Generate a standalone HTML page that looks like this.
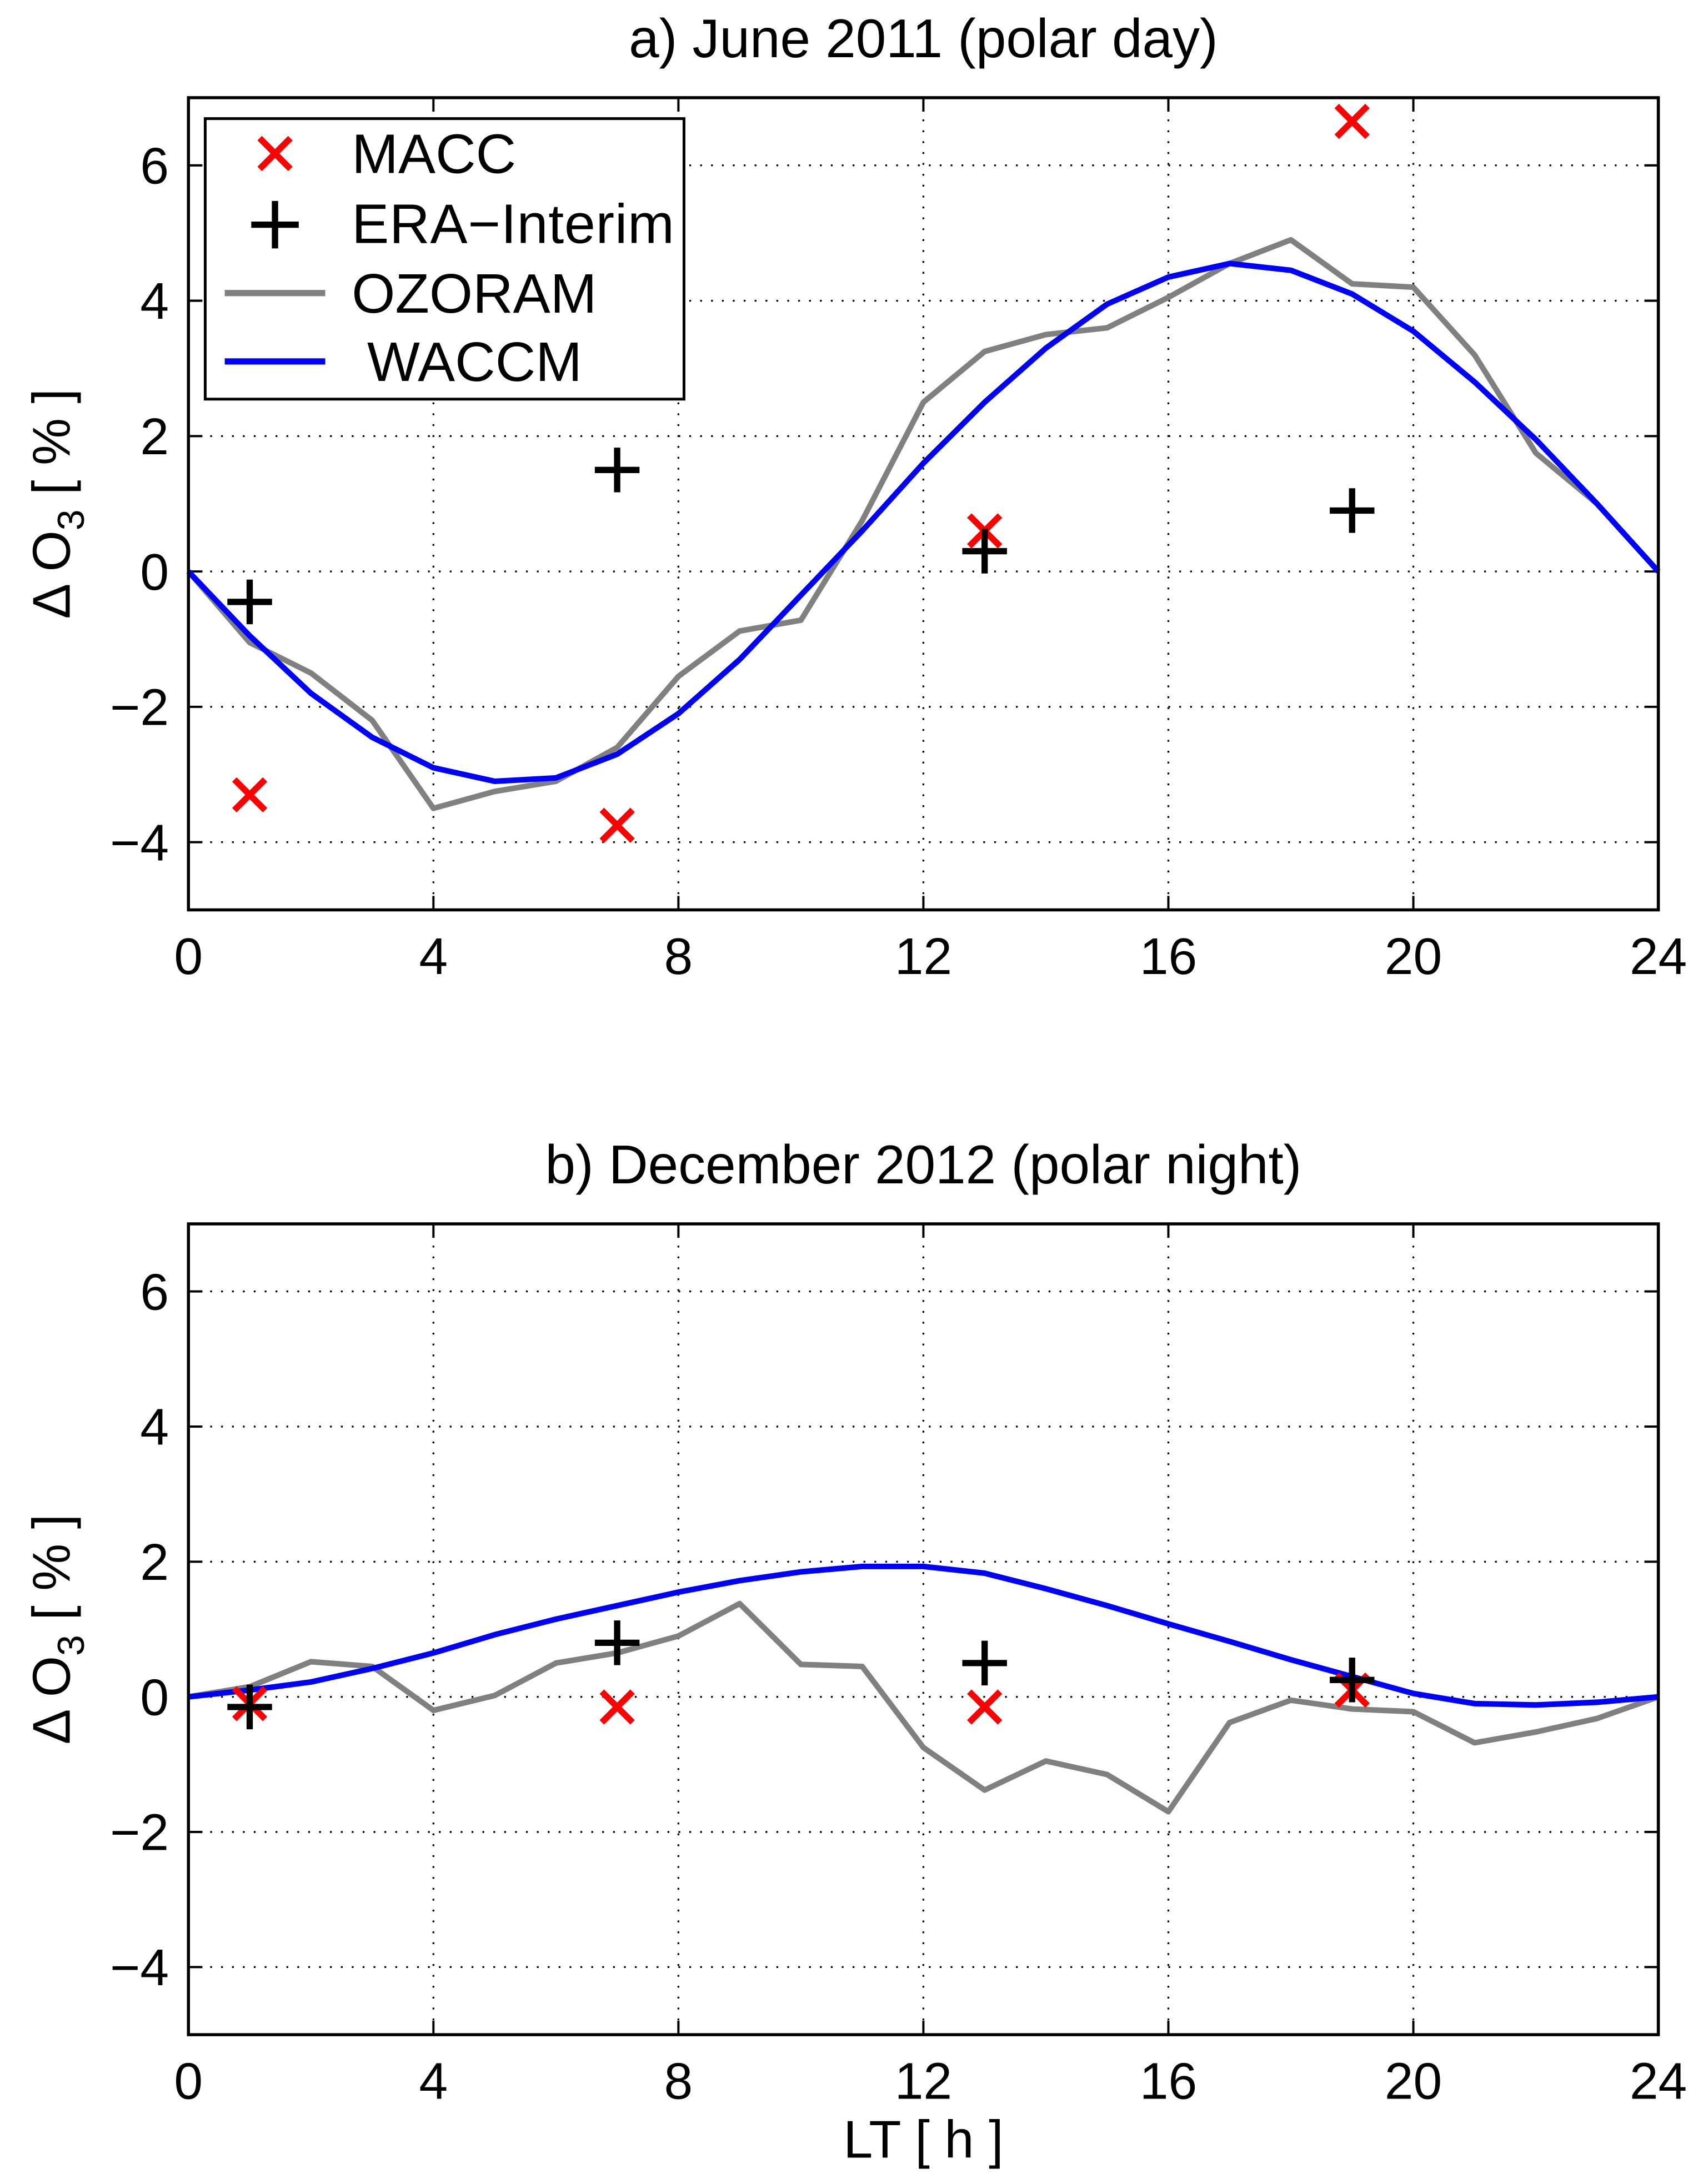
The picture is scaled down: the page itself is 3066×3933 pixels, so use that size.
<!DOCTYPE html>
<html><head><meta charset="utf-8"><style>
html,body{margin:0;padding:0;background:#fff}
svg{display:block}
text{font-family:"Liberation Sans",sans-serif;fill:#000}
</style></head><body>
<svg id="chart" width="3066" height="3933" viewBox="0 0 1220 1565" xmlns="http://www.w3.org/2000/svg"></svg>
<script>
const hours = [0,1,2,3,4,5,6,7,8,9,10,11,12,13,14,15,16,17,18,19,20,21,22,23,24];
const obsHours = [1,7,13,19];
const xTicks = [0,4,8,12,16,20,24];
const yTicks = [-4,-2,0,2,4,6];
const ozoramA = [0,-1.05,-1.5,-2.2,-3.5,-3.25,-3.1,-2.6,-1.55,-0.88,-0.72,0.75,2.5,3.25,3.5,3.6,4.05,4.55,4.9,4.25,4.2,3.2,1.75,1.0,0];
const waccmA = [0,-0.95,-1.8,-2.45,-2.9,-3.1,-3.05,-2.7,-2.1,-1.3,-0.35,0.6,1.6,2.5,3.3,3.95,4.35,4.55,4.45,4.1,3.55,2.8,1.95,1.0,0];
const maccA = [-3.3,-3.75,0.6,6.65];
const eraA = [-0.45,1.5,0.3,0.9];
const ozoramB = [0,0.15,0.52,0.45,-0.2,0.02,0.5,0.65,0.9,1.38,0.48,0.45,-0.75,-1.38,-0.95,-1.15,-1.7,-0.38,-0.05,-0.18,-0.22,-0.68,-0.52,-0.32,0];
const waccmB = [0,0.1,0.22,0.42,0.65,0.92,1.15,1.35,1.55,1.72,1.85,1.93,1.93,1.83,1.6,1.35,1.08,0.82,0.55,0.3,0.05,-0.1,-0.12,-0.08,0];
const maccB = [-0.1,-0.15,-0.15,0.1];
const eraB = [-0.15,0.8,0.5,0.25];

const NS="http://www.w3.org/2000/svg";
const svg=document.getElementById('chart');
function el(tag,attrs,parent){const e=document.createElementNS(NS,tag);for(const k in attrs)e.setAttribute(k,attrs[k]);(parent||svg).appendChild(e);return e;}

function panel(id,top,bottom,title,oz,wa,macc,era,showLegend,showXLabel){
  const L=135,R=1188,ymin=-5,ymax=7;
  const xs=v=>L+(v-0)/(24-0)*(R-L);
  const ys=v=>bottom-(v-ymin)/(ymax-ymin)*(bottom-top);
  const g=el('g',{});
  
  
  el('rect',{x:L,y:top,width:R-L,height:bottom-top,fill:'#fff'},g);
  xTicks.forEach(t=>{if(t>0&&t<24){const l=el('line',{x1:xs(t),x2:xs(t),y1:top,y2:bottom,stroke:'#000','stroke-width':1.3,'stroke-dasharray':'1.3 6.5'},g);
    }});
  yTicks.forEach(t=>{const l=el('line',{x1:L,x2:R,y1:ys(t),y2:ys(t),stroke:'#000','stroke-width':1.3,'stroke-dasharray':'1.3 6.5'},g);
    });
  xTicks.forEach(t=>{el('line',{x1:xs(t),x2:xs(t),y1:bottom,y2:bottom-10,stroke:'#000','stroke-width':1.6},g);el('line',{x1:xs(t),x2:xs(t),y1:top,y2:top+10,stroke:'#000','stroke-width':1.6},g);
    const tx=el('text',{x:xs(t),y:bottom+46,'font-size':37,'text-anchor':'middle'},g);tx.textContent=t;
    });
  yTicks.forEach(t=>{el('line',{x1:L,x2:L+10,y1:ys(t),y2:ys(t),stroke:'#000','stroke-width':1.6},g);el('line',{x1:R,x2:R-10,y1:ys(t),y2:ys(t),stroke:'#000','stroke-width':1.6},g);
    const tx=el('text',{x:L-14,y:ys(t)+13,'font-size':37,'text-anchor':'end'},g);tx.textContent=(t<0?'\u2212'+(-t):t);
    });
  const p1=el('polyline',{points:hours.map((h,i)=>xs(h)+','+ys(oz[i])).join(' '),fill:'none',stroke:'#808080','stroke-width':4,'stroke-linejoin':'round'},g);
  
  const p2=el('polyline',{points:hours.map((h,i)=>xs(h)+','+ys(wa[i])).join(' '),fill:'none',stroke:'#0000ff','stroke-width':4,'stroke-linejoin':'round'},g);
  
  obsHours.forEach((h,i)=>{const cx=xs(h),cy=ys(macc[i]),s=11;
    const m=el('path',{d:`M${cx-s} ${cy-s}L${cx+s} ${cy+s}M${cx-s} ${cy+s}L${cx+s} ${cy-s}`,stroke:'#ff0000','stroke-width':4.5},g);
    });
  obsHours.forEach((h,i)=>{const cx=xs(h),cy=ys(era[i]),s=16;
    const m=el('path',{d:`M${cx-s} ${cy}L${cx+s} ${cy}M${cx} ${cy-s}L${cx} ${cy+s}`,stroke:'#000','stroke-width':4.5},g);
    });
  el('rect',{x:L,y:top,width:R-L,height:bottom-top,fill:'none',stroke:'#000','stroke-width':2.2},g);
  const tt=el('text',{x:(L+R)/2,y:top-29,'font-size':39,'text-anchor':'middle'},g);tt.textContent=title;
  
  const yl=el('text',{transform:`translate(50,${(top+bottom)/2}) rotate(-90)`,'font-size':38,'text-anchor':'middle'},g);
  yl.innerHTML='\u0394 O<tspan dy="10" font-size="27">3</tspan><tspan dy="-10"> [ % ]</tspan>';
  
  if(showXLabel){const xl=el('text',{x:(L+R)/2,y:bottom+88,'font-size':38,'text-anchor':'middle'},g);xl.textContent='LT [ h ]';
    }
  if(showLegend){
    const lg=el('g',{},g);
    el('rect',{x:147,y:85,width:343,height:201,fill:'#fff',stroke:'#000','stroke-width':2},lg);
    el('path',{d:'M186 99L208 121M186 121L208 99',stroke:'#ff0000','stroke-width':4.5},lg);
    el('path',{d:'M180 161L214 161M197 144L197 178',stroke:'#000','stroke-width':4.5},lg);
    el('line',{x1:161,x2:233,y1:210,y2:210,stroke:'#808080','stroke-width':4.5},lg);
    el('line',{x1:161,x2:233,y1:259,y2:259,stroke:'#0000ff','stroke-width':4.5},lg);
    [['MACC',252,124],['ERA\u2212Interim',252,174],['OZORAM',252,224],['WACCM',263,273]].forEach(([t,x,y])=>{
      const e=el('text',{x:x,y:y,'font-size':40,'textLength':t==='ERA\u2212Interim'?231:null},lg);
      if(t!=='ERA\u2212Interim')e.removeAttribute('textLength');
      e.textContent=t;
      });
  }
}
panel('panel-a-june-2011',70,652,'a)  June 2011 (polar day)',ozoramA,waccmA,maccA,eraA,true,false);
panel('panel-b-december-2012',877,1458,'b)  December 2012 (polar night)',ozoramB,waccmB,maccB,eraB,false,true);
</script>
</body></html>
